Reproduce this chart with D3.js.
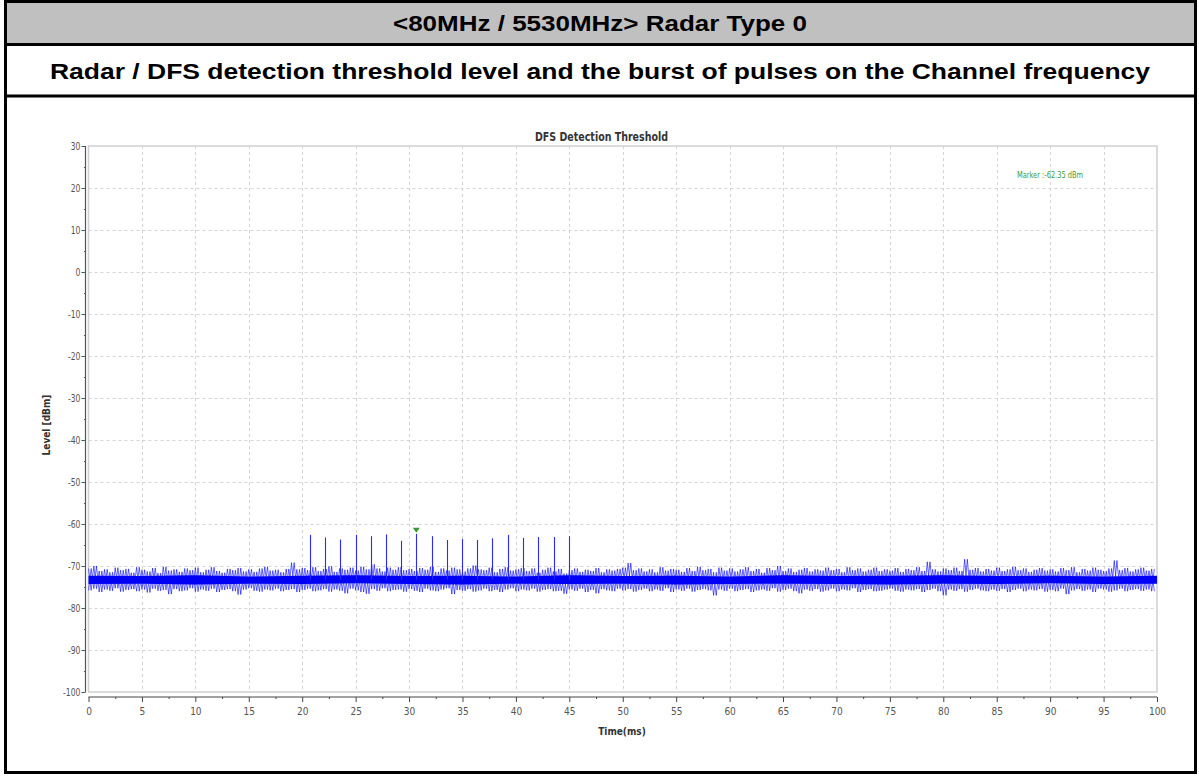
<!DOCTYPE html>
<html>
<head>
<meta charset="utf-8">
<script src="https://cdn.jsdelivr.net/npm/d3@7"></script>
<style>
  html, body { margin: 0; padding: 0; background: #fff; }
  svg { display: block; }
</style>
</head>
<body>
<div id="chart"></div>
<script>
// DFS detection threshold chart (Radar Type 0)

const headerTitle = '<80MHz / 5530MHz> Radar Type 0';
const headerSubtitle = 'Radar / DFS detection threshold level and the burst of pulses on the Channel frequency';
const chartTitle = 'DFS Detection Threshold';
const xLabel = 'Time(ms)';
const yLabel = 'Level [dBm]';
const markerLabel = 'Marker :-62.35 dBm';

const xTicks = [0, 5, 10, 15, 20, 25, 30, 35, 40, 45, 50, 55, 60, 65, 70, 75, 80, 85, 90, 95, 100];
const yTicks = [30, 20, 10, 0, -10, -20, -30, -40, -50, -60, -70, -80, -90, -100];

// radar burst: pulse time (ms) and peak level (dBm)
const pulseTimes = [20.70, 22.13, 23.57, 25.03, 26.44, 27.81, 29.25, 30.68, 32.12,
                    33.55, 34.98, 36.36, 37.79, 39.23, 40.66, 42.10, 43.54, 44.97];
const pulseLevels = [-62.6, -63.2, -63.7, -62.6, -62.9, -62.5, -64.0, -62.35, -62.9,
                     -63.8, -63.6, -63.8, -63.4, -62.6, -63.3, -63.1, -63.1, -62.9];
const pulseBase = -73.2;

const markerTime = 30.68;
const markerLevel = -62.35;

// noise floor envelope, one value per 0.5 ms bin
const noiseHi = [
  -70.6,-70.0,-71.2,-70.8,-71.5,-70.4,-71.0,-70.7,-71.6,-70.3,
  -70.9,-71.3,-70.5,-71.7,-70.2,-71.1,-70.8,-71.4,-70.6,-71.0,
  -70.4,-71.5,-70.9,-70.3,-71.2,-71.6,-70.7,-71.0,-70.5,-71.3,
  -70.8,-71.4,-70.6,-70.2,-71.1,-70.9,-71.5,-70.7,-69.2,-70.8,
  -70.5,-71.0,-70.3,-71.2,-70.7,-70.1,-71.4,-70.6,-70.9,-70.4,
  -71.1,-70.2,-70.8,-69.6,-70.6,-71.3,-70.4,-70.9,-70.3,-71.0,
  -70.7,-71.2,-70.5,-70.9,-70.2,-71.4,-70.6,-71.1,-70.4,-70.8,
  -71.3,-70.6,-69.9,-70.8,-71.0,-70.4,-71.5,-70.7,-70.3,-71.1,
  -70.8,-70.5,-71.2,-70.6,-71.6,-70.9,-70.4,-71.3,-70.7,-71.8,
  -71.0,-70.6,-71.4,-70.9,-71.2,-70.5,-71.5,-70.8,-71.1,-70.7,
  -70.4,-69.3,-71.0,-70.6,-71.3,-70.8,-71.5,-70.3,-71.1,-70.7,
  -70.9,-71.4,-70.5,-71.2,-70.2,-71.0,-70.7,-71.5,-70.4,-71.1,
  -70.6,-71.3,-70.8,-70.3,-71.2,-70.7,-71.6,-70.5,-71.0,-70.0,
  -71.2,-70.6,-71.4,-70.9,-70.5,-71.3,-70.8,-71.1,-70.4,-71.0,
  -70.7,-71.5,-70.3,-71.0,-70.6,-71.3,-70.9,-70.4,-71.2,-70.8,
  -71.1,-70.5,-71.4,-70.7,-71.0,-70.3,-71.2,-69.0,-70.8,-71.3,
  -70.6,-71.0,-70.4,-71.2,-68.4,-70.9,-70.5,-71.3,-70.7,-71.1,
  -70.4,-71.2,-70.8,-70.2,-71.0,-70.6,-71.4,-70.9,-70.5,-71.1,
  -70.8,-71.3,-70.5,-71.0,-70.3,-71.5,-70.7,-71.1,-70.4,-70.9,
  -71.2,-70.6,-68.7,-71.0,-70.5,-71.3,-70.8,-70.4,-71.1,-70.7
];
const noiseLo = [
  -75.8,-75.4,-76.2,-75.6,-75.9,-75.3,-76.1,-75.7,-75.5,-76.0,
  -75.6,-76.3,-75.4,-75.9,-75.7,-76.7,-75.5,-76.0,-75.8,-75.3,
  -76.1,-75.6,-75.9,-75.4,-76.2,-75.7,-75.5,-76.0,-76.8,-75.6,
  -75.3,-75.9,-76.1,-75.6,-75.8,-75.4,-76.0,-75.7,-75.5,-76.2,
  -75.7,-75.4,-76.0,-75.8,-75.5,-76.1,-75.6,-75.9,-76.5,-75.4,
  -75.8,-76.2,-76.6,-75.5,-75.9,-75.3,-76.0,-75.7,-75.6,-76.1,
  -75.5,-75.9,-76.2,-75.4,-75.8,-76.0,-75.6,-75.3,-76.7,-75.7,
  -75.9,-75.5,-76.1,-75.8,-75.4,-76.0,-75.7,-76.2,-75.6,-75.3,
  -76.0,-75.6,-75.8,-75.4,-76.1,-75.7,-75.5,-76.0,-75.9,-76.6,
  -75.6,-75.9,-75.4,-76.2,-75.7,-76.5,-75.5,-75.8,-76.0,-75.4,
  -75.8,-75.5,-76.1,-75.7,-75.4,-76.0,-75.6,-75.9,-75.3,-76.2,
  -75.6,-75.9,-75.4,-76.1,-75.7,-75.5,-75.8,-77.0,-75.6,-75.9,
  -75.4,-76.0,-75.7,-75.5,-76.2,-75.8,-75.6,-75.9,-75.3,-76.1,
  -75.7,-75.4,-76.0,-76.5,-75.6,-75.9,-75.5,-76.1,-75.8,-75.4,
  -76.0,-75.6,-75.8,-75.3,-76.2,-75.7,-75.5,-76.0,-75.9,-75.6,
  -75.4,-75.9,-76.1,-75.6,-75.8,-75.5,-76.2,-75.7,-75.4,-76.0,
  -77.0,-75.6,-75.9,-75.5,-76.1,-75.7,-75.4,-75.8,-76.0,-75.6,
  -75.9,-75.5,-76.2,-75.7,-75.4,-76.0,-75.6,-75.8,-75.5,-76.1,
  -75.7,-76.0,-75.4,-76.7,-75.8,-75.5,-75.9,-75.6,-76.2,-75.4,
  -75.6,-76.1,-75.8,-75.4,-76.0,-75.7,-75.5,-75.9,-75.6,-76.0
];
const binWidth = 0.5;

// dense core of the noise band, one value per 5 ms
const coreTimes = [0, 5, 10, 15, 20, 25, 30, 35, 40, 45, 50, 55, 60, 65, 70, 75, 80, 85, 90, 95, 100];
const coreHi = [-72.3, -72.4, -72.2, -72.5, -72.3, -72.2, -72.4, -72.3, -72.5, -72.2, -72.4,
                -72.3, -72.5, -72.2, -72.4, -72.3, -72.2, -72.4, -72.3, -72.5, -72.3];
const coreLo = [-74.3, -74.2, -74.4, -74.2, -74.3, -74.1, -74.3, -74.4, -74.2, -74.3, -74.2,
                -74.4, -74.3, -74.2, -74.3, -74.4, -74.2, -74.3, -74.1, -74.3, -74.2];

const W = 1199, H = 776;
const plot = { left: 88.5, right: 1157, top: 146, bottom: 692 };
const narrow = '"Liberation Sans Narrow", "DejaVu Sans Condensed", "Liberation Sans", sans-serif';
const arial = 'Arial, "Liberation Sans", sans-serif';

const svg = d3.select('#chart').append('svg')
  .attr('width', W)
  .attr('height', H);

// frame and header rows
svg.append('rect')
  .attr('x', 5.5).attr('y', 1.5)
  .attr('width', 1190).attr('height', 771)
  .attr('fill', '#fff');
svg.append('rect')
  .attr('x', 5.5).attr('y', 1.5)
  .attr('width', 1190).attr('height', 43)
  .attr('fill', '#c0c0c0');
svg.append('line')
  .attr('x1', 5.5).attr('x2', 1195.5)
  .attr('y1', 44.5).attr('y2', 44.5)
  .attr('stroke', '#000').attr('stroke-width', 3);
svg.append('line')
  .attr('x1', 5.5).attr('x2', 1195.5)
  .attr('y1', 96).attr('y2', 96)
  .attr('stroke', '#000').attr('stroke-width', 3);
svg.append('rect')
  .attr('x', 5.5).attr('y', 1.5)
  .attr('width', 1190).attr('height', 771)
  .attr('fill', 'none')
  .attr('stroke', '#000').attr('stroke-width', 3);

svg.append('text')
  .attr('x', 393).attr('y', 31)
  .attr('font-family', arial)
  .attr('font-weight', 'bold')
  .attr('font-size', '22px')
  .attr('textLength', 414)
  .attr('lengthAdjust', 'spacingAndGlyphs')
  .text(headerTitle);

svg.append('text')
  .attr('x', 50).attr('y', 79)
  .attr('font-family', arial)
  .attr('font-weight', 'bold')
  .attr('font-size', '22px')
  .attr('textLength', 1100)
  .attr('lengthAdjust', 'spacingAndGlyphs')
  .text(headerSubtitle);

// scales
const x = d3.scaleLinear().domain([0, 100]).range([plot.left, plot.right]);
const y = d3.scaleLinear().domain([-100, 30]).range([plot.bottom, plot.top]);

// grid
const grid = svg.append('g').attr('class', 'grid');
grid.selectAll('line.vgrid')
  .data(xTicks.filter(d => d > 0 && d < 100))
  .enter().append('line')
  .attr('class', 'vgrid')
  .attr('x1', d => Math.round(x(d)) + 0.5).attr('x2', d => Math.round(x(d)) + 0.5)
  .attr('y1', plot.top).attr('y2', plot.bottom)
  .attr('stroke', '#d4d4d4')
  .attr('stroke-dasharray', '3,3');
grid.selectAll('line.hgrid')
  .data(yTicks.filter(d => d > -100 && d < 30))
  .enter().append('line')
  .attr('class', 'hgrid')
  .attr('x1', plot.left).attr('x2', plot.right)
  .attr('y1', d => Math.round(y(d)) + 0.5).attr('y2', d => Math.round(y(d)) + 0.5)
  .attr('stroke', '#d4d4d4')
  .attr('stroke-dasharray', '3,3');

// plot frame
svg.append('rect')
  .attr('x', plot.left).attr('y', plot.top)
  .attr('width', plot.right - plot.left)
  .attr('height', plot.bottom - plot.top)
  .attr('fill', 'none')
  .attr('stroke', '#cfcfcf')
  .attr('stroke-width', 1.5);

// chart title
svg.append('text')
  .attr('x', 535).attr('y', 141)
  .attr('font-family', narrow)
  .attr('font-weight', 'bold')
  .attr('font-size', '12px')
  .attr('textLength', 133)
  .attr('lengthAdjust', 'spacingAndGlyphs')
  .attr('fill', '#333')
  .text(chartTitle);

// y axis (offset left of frame)
const yAxis = d3.axisLeft(y)
  .tickValues(d3.range(-100, 31, 5))
  .tickSize(4)
  .tickFormat(d => (d % 10 === 0 ? d : ''));
const gy = svg.append('g')
  .attr('transform', 'translate(85.5,0)')
  .call(yAxis);
gy.select('.domain').attr('stroke', '#555').attr('stroke-width', 1.2).attr('d', `M0,${plot.top}V${plot.bottom}`);
gy.selectAll('.tick line')
  .attr('stroke', '#555')
  .attr('x2', d => (d % 10 === 0 ? -4 : -1.5));
gy.selectAll('.tick text')
  .attr('x', -6)
  .attr('font-family', narrow)
  .attr('font-size', '10px')
  .attr('transform', 'scale(0.85,1)')
  .attr('fill', '#555');

// x axis (below frame)
const xAxis = d3.axisBottom(x)
  .tickValues(d3.range(0, 100.1, 2.5))
  .tickSize(5)
  .tickFormat(d => (d % 5 === 0 ? d : ''));
const gx = svg.append('g')
  .attr('transform', 'translate(0,697)')
  .call(xAxis);
gx.select('.domain').attr('stroke', '#444').attr('stroke-width', 1.2).attr('d', `M${plot.left},0H${plot.right}`);
gx.selectAll('.tick line')
  .attr('stroke', '#444')
  .attr('y2', d => (d % 5 === 0 ? 5 : 2));
gx.selectAll('.tick text')
  .attr('y', 11)
  .attr('font-family', narrow)
  .attr('font-size', '10px')
  .attr('fill', '#555');

// axis titles
svg.append('text')
  .attr('x', 622).attr('y', 735)
  .attr('text-anchor', 'middle')
  .attr('font-family', narrow)
  .attr('font-weight', 'bold')
  .attr('font-size', '10px')
  .attr('fill', '#333')
  .text(xLabel);
svg.append('text')
  .attr('transform', 'translate(50,425) rotate(-90)')
  .attr('text-anchor', 'middle')
  .attr('font-family', narrow)
  .attr('font-weight', 'bold')
  .attr('font-size', '10px')
  .attr('fill', '#333')
  .text(yLabel);

// noise trace
const traceG = svg.append('g').attr('class', 'trace');

const coreArea = d3.area()
  .x((d, i) => x(coreTimes[i]))
  .y0((d, i) => y(coreLo[i]))
  .y1((d, i) => y(coreHi[i]));
traceG.append('path')
  .datum(coreTimes)
  .attr('d', coreArea)
  .attr('fill', '#0000f0');

// trace sweeps between the bin extremes; drawn in both phases to get the density
const zigA = [], zigB = [];
noiseHi.forEach((hi, i) => {
  const t = i * binWidth;
  zigA.push([t, hi], [t + binWidth / 2, noiseLo[i]]);
  zigB.push([t, noiseLo[i]], [t + binWidth / 2, hi]);
});
const zigLine = d3.line().x(d => x(d[0])).y(d => y(d[1]));
[zigA, zigB].forEach(z => {
  traceG.append('path')
    .datum(z)
    .attr('d', zigLine)
    .attr('fill', 'none')
    .attr('stroke', '#0000ff')
    .attr('stroke-opacity', 0.6)
    .attr('stroke-width', 1);
});

// radar pulses
traceG.selectAll('line.pulse')
  .data(pulseTimes)
  .enter().append('line')
  .attr('class', 'pulse')
  .attr('x1', d => Math.round(x(d)) + 0.5).attr('x2', d => Math.round(x(d)) + 0.5)
  .attr('y1', y(pulseBase))
  .attr('y2', (d, i) => y(pulseLevels[i]))
  .attr('stroke', '#2a2aff')
  .attr('stroke-width', 1.1);

// marker
const mx = x(markerTime), my = y(markerLevel);
svg.append('path')
  .attr('d', `M${mx - 3.5},${my - 6}L${mx + 3.5},${my - 6}L${mx},${my - 1}Z`)
  .attr('fill', '#3a9a3a');
svg.append('text')
  .attr('x', 1017).attr('y', 178)
  .attr('font-family', narrow)
  .attr('font-size', '9px')
  .attr('textLength', 66)
  .attr('lengthAdjust', 'spacingAndGlyphs')
  .attr('fill', '#3a9a3a')
  .text(markerLabel);
</script>
</body>
</html>
